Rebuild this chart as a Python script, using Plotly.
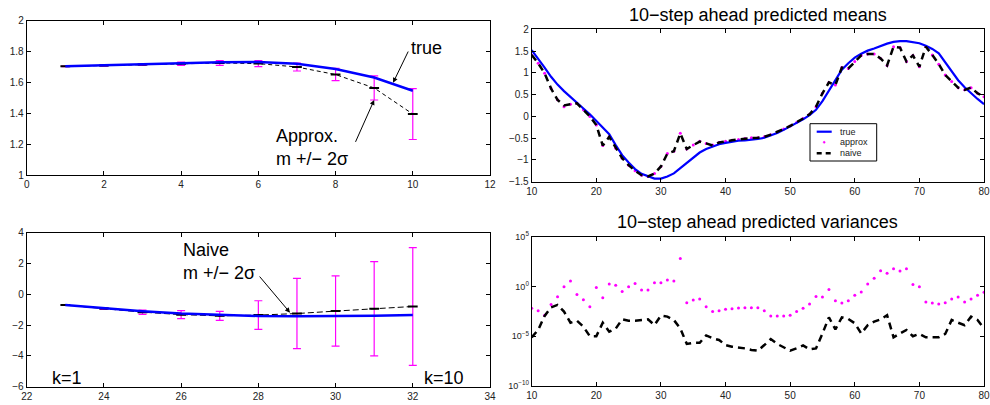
import plotly.graph_objects as go

# ---------------- data ----------------
# top-left: k-step ahead, approx method
tl_k = [1, 2, 3, 4, 5, 6, 7, 8, 9, 10]
tl_true = [1.704, 1.711, 1.717, 1.724, 1.730, 1.732, 1.721, 1.687, 1.632, 1.546]
tl_approx = [1.704, 1.710, 1.716, 1.721, 1.726, 1.722, 1.700, 1.651, 1.564, 1.395]
tl_err = [0.002, 0.004, 0.005, 0.011, 0.015, 0.019, 0.026, 0.040, 0.078, 0.165]

# bottom-left: naive method
bl_k = [23, 24, 25, 26, 27, 28, 29, 30, 31, 32]
bl_true = [-0.70, -0.92, -1.10, -1.25, -1.35, -1.41, -1.43, -1.42, -1.40, -1.35]
bl_naive = [-0.70, -0.93, -1.16, -1.32, -1.40, -1.35, -1.25, -1.09, -0.94, -0.79]
bl_err = [0.02, 0.05, 0.14, 0.26, 0.29, 0.93, 2.28, 2.28, 3.06, 3.82]

# right: 10-step ahead predictions, t = 10..80
t = list(range(10, 81))
true_mean = [1.52, 1.33, 1.12, 0.91, 0.73, 0.58, 0.44, 0.31, 0.18, 0.05,
             -0.10, -0.24, -0.41, -0.66, -0.89, -1.06, -1.21, -1.32, -1.38, -1.43,
             -1.43, -1.38, -1.31, -1.19, -1.06, -0.94, -0.83, -0.75, -0.69, -0.64,
             -0.61, -0.58, -0.56, -0.55, -0.54, -0.52, -0.49, -0.44, -0.38, -0.31,
             -0.23, -0.15, -0.07, 0.03, 0.15, 0.35, 0.60, 0.85, 1.07, 1.22,
             1.35, 1.44, 1.51, 1.56, 1.62, 1.67, 1.71, 1.73, 1.73, 1.71,
             1.68, 1.62, 1.55, 1.45, 1.24, 1.03, 0.83, 0.67, 0.53, 0.40,
             0.28]
naive_mean = [1.41, 1.22, 0.99, 0.64, 0.38, 0.25, 0.28, 0.30, 0.15, 0.00,
              -0.20, -0.67, -0.47, -0.73, -0.96, -1.12, -1.25, -1.35, -1.38, -1.31,
              -1.15, -0.85, -0.80, -0.39, -0.75, -0.66, -0.58, -0.62, -0.67, -0.60,
              -0.57, -0.55, -0.53, -0.51, -0.50, -0.49, -0.47, -0.42, -0.36, -0.29,
              -0.22, -0.14, -0.05, 0.05, 0.22, 0.53, 0.78, 0.72, 1.12, 1.10,
              1.26, 1.40, 1.43, 1.43, 1.33, 1.17, 1.60, 1.58, 1.26, 1.40,
              1.14, 1.60, 1.41, 1.20, 0.95, 0.80, 0.66, 0.61, 0.66, 0.53,
              0.45]
approx_mean = [1.41, 1.22, 0.99, 0.64, 0.38, 0.22, 0.28, 0.30, 0.15, 0.00,
               -0.20, -0.67, -0.47, -0.73, -0.96, -1.12, -1.25, -1.35, -1.38, -1.31,
               -1.15, -0.85, -0.80, -0.39, -0.75, -0.66, -0.57, -0.62, -0.66, -0.60,
               -0.57, -0.55, -0.53, -0.51, -0.49, -0.49, -0.47, -0.42, -0.36, -0.29,
               -0.22, -0.14, -0.05, 0.05, 0.22, 0.53, 0.78, 0.72, 1.12, 1.10,
               1.26, 1.40, 1.43, 1.43, 1.33, 1.17, 1.60, 1.58, 1.26, 1.40,
               1.14, 1.60, 1.41, 1.20, 0.95, 0.80, 0.66, 0.61, 0.66, 0.53,
               0.45]
approx_var = [6.3e-3, 3.7e-3, 1.3e-3, 1.5e-2, 9.3e-2, 0.95, 3.5, 0.16, 4.7e-2, 9.3e-3,
              0.81, 7.4e-2, 1.8, 1.3, 0.32, 0.95, 2.0, 0.44, 0.44, 2.4,
              2.4, 4.5, 3.5, 660, 2.3e-2, 4.4e-2, 5.5e-2, 9.3e-3, 3.0e-3, 3.7e-3,
              5.0e-3, 5.9e-3, 6.9e-3, 7.4e-3, 7.4e-3, 7.4e-3, 3.7e-3, 1.1e-3, 1.1e-3, 1.1e-3,
              1.3e-3, 3.0e-3, 6.3e-3, 1.7e-2, 0.10, 8.7e-2, 0.51, 3.7e-2, 2.2e-2, 3.7e-2,
              0.13, 0.28, 1.8, 6.6, 39, 21, 62, 35, 62, 1.6,
              0.95, 2.8e-2, 2.2e-2, 1.7e-2, 2.3e-2, 5.5e-2, 8.7e-2, 2.8e-2, 5.5e-2, 0.13,
              0.26]
naive_var = [7.8e-6, 4.3e-5, 1.1e-3, 7.9e-3, 1.4e-2, 3.0e-3, 2.3e-4, 3.6e-4, 9.1e-5, 1.0e-5,
             1.0e-5, 2.3e-4, 2.9e-5, 5.8e-5, 5.0e-4, 3.6e-4, 3.6e-4, 4.3e-4, 5.0e-4, 1.3e-4,
             1.2e-3, 9.3e-4, 4.3e-4, 6.2e-5, 1.7e-6, 2.2e-6, 2.2e-6, 1.2e-5, 6.2e-6, 4.2e-6,
             1.3e-6, 8.9e-7, 7.6e-7, 6.0e-7, 4.2e-7, 3.5e-7, 1.3e-6, 5.2e-6, 1.7e-6, 7.6e-7,
             3.5e-7, 6.0e-7, 1.2e-6, 4.8e-7, 6.0e-7, 1.9e-5, 7.9e-4, 4.9e-5, 7.9e-4, 5.4e-4,
             2.0e-4, 1.9e-5, 1.3e-4, 2.9e-4, 5.0e-4, 1.3e-3, 7.8e-6, 1.9e-5, 4.3e-5, 1.0e-5,
             1.7e-5, 7.8e-6, 7.8e-6, 7.8e-6, 1.7e-5, 4.3e-4, 2.3e-4, 1.3e-4, 9.3e-4, 4.3e-4,
             6.2e-5]

var_tickvals = [1e-10, 1e-5, 1, 1e5]
var_ticktext = ["10<sup>−10</sup>", "10<sup>−5</sup>", "10<sup>0</sup>", "10<sup>5</sup>"]
legend_names = ["true", "approx", "naive"]

# ---------------- figure ----------------
W, H = 990, 405
FONT = "Liberation Sans, Arial, sans-serif"
BLUE, MAG = "#0000ff", "#ff00ff"
fig = go.Figure()

def px_x(p):
    return p / W

def px_y(p):
    return 1 - p / H

# top-left
fig.add_trace(go.Scatter(x=tl_k, y=tl_approx, mode="markers", showlegend=False,
                         marker=dict(symbol="line-ew", size=7, color="black",
                                     line=dict(width=2, color="black")),
                         error_y=dict(type="data", array=tl_err, color=MAG,
                                      thickness=1.2, width=4),
                         xaxis="x", yaxis="y"))
fig.add_trace(go.Scatter(x=tl_k, y=tl_approx, mode="lines", showlegend=False,
                         line=dict(color="black", width=1, dash="4px,3px"),
                         xaxis="x", yaxis="y"))
fig.add_trace(go.Scatter(x=tl_k, y=tl_true, mode="lines", showlegend=False,
                         line=dict(color=BLUE, width=2.5),
                         xaxis="x", yaxis="y"))

# bottom-left
fig.add_trace(go.Scatter(x=bl_k, y=bl_naive, mode="markers", showlegend=False,
                         marker=dict(symbol="line-ew", size=7, color="black",
                                     line=dict(width=2, color="black")),
                         error_y=dict(type="data", array=bl_err, color=MAG,
                                      thickness=1.2, width=4),
                         xaxis="x3", yaxis="y3"))
fig.add_trace(go.Scatter(x=bl_k, y=bl_naive, mode="lines", showlegend=False,
                         line=dict(color="black", width=1, dash="6px,3px"),
                         xaxis="x3", yaxis="y3"))
fig.add_trace(go.Scatter(x=bl_k, y=bl_true, mode="lines", showlegend=False,
                         line=dict(color=BLUE, width=2.5),
                         xaxis="x3", yaxis="y3"))

# top-right: means
fig.add_trace(go.Scatter(x=t, y=approx_mean, mode="markers", name=legend_names[1],
                         showlegend=False, marker=dict(color=MAG, size=3),
                         xaxis="x2", yaxis="y2"))
fig.add_trace(go.Scatter(x=t, y=true_mean, mode="lines", name=legend_names[0],
                         showlegend=False, line=dict(color=BLUE, width=2.2),
                         xaxis="x2", yaxis="y2"))
fig.add_trace(go.Scatter(x=t, y=naive_mean, mode="lines", name=legend_names[2],
                         showlegend=False, line=dict(color="black", width=2.5, dash="7px,5px"),
                         xaxis="x2", yaxis="y2"))

# bottom-right: variances
fig.add_trace(go.Scatter(x=t, y=approx_var, mode="markers", showlegend=False,
                         marker=dict(color=MAG, size=3),
                         xaxis="x4", yaxis="y4"))
fig.add_trace(go.Scatter(x=t, y=naive_var, mode="lines", showlegend=False,
                         line=dict(color="black", width=2.5, dash="7px,5px"),
                         xaxis="x4", yaxis="y4"))

ax = dict(showline=True, linecolor="black", linewidth=1, mirror="ticks",
          ticks="inside", ticklen=4, tickcolor="black", showgrid=False,
          zeroline=False, automargin=False, ticklabeloverflow="allow",
          tickfont=dict(family=FONT, size=10, color="#222"))

L1, R1 = px_x(26.7), px_x(490)
L2, R2 = px_x(531.7), px_x(984)

fig.update_layout(
    width=W, height=H, margin=dict(l=0, r=0, t=0, b=0),
    paper_bgcolor="white", plot_bgcolor="white", showlegend=False,
    font=dict(family=FONT, color="black"),
    xaxis=dict(ax, domain=[L1, R1], range=[0, 12], tickvals=[0, 2, 4, 6, 8, 10, 12], anchor="y"),
    yaxis=dict(ax, domain=[px_y(175), px_y(20.7)], range=[1, 2],
               tickvals=[1, 1.2, 1.4, 1.6, 1.8, 2], anchor="x"),
    xaxis2=dict(ax, domain=[L2, R2], range=[10, 80], tickvals=list(range(10, 81, 10)), anchor="y2"),
    yaxis2=dict(ax, domain=[px_y(181.7), px_y(29.3)], range=[-1.5, 2],
                tickvals=[-1.5, -1, -0.5, 0, 0.5, 1, 1.5, 2], anchor="x2"),
    xaxis3=dict(ax, domain=[L1, R1], range=[22, 34], tickvals=list(range(22, 35, 2)), anchor="y3"),
    yaxis3=dict(ax, domain=[px_y(386.7), px_y(232.7)], range=[-6, 4],
                tickvals=[-6, -4, -2, 0, 2, 4], anchor="x3"),
    xaxis4=dict(ax, domain=[L2, R2], range=[10, 80], tickvals=list(range(10, 81, 10)), anchor="y4"),
    yaxis4=dict(ax, domain=[px_y(386), px_y(236.7)], type="log", range=[-10, 5],
                tickvals=var_tickvals, ticktext=var_ticktext, anchor="x4",
                tickfont=dict(family=FONT, size=9, color="#222")),
)

ann = []
def arrow(x, y, axv, ayv, xr, yr):
    return dict(x=x, y=y, ax=axv, ay=ayv, xref=xr, yref=yr, axref=xr, ayref=yr,
                text="", showarrow=True, arrowhead=2, arrowsize=1, arrowwidth=1,
                arrowcolor="black", standoff=0, startstandoff=0)

def label(x, y, text, xr, yr, size=18):
    return dict(x=x, y=y, xref=xr, yref=yr, text=text, showarrow=False,
                xanchor="left", yanchor="middle", align="left",
                font=dict(family=FONT, size=size, color="black"))

ann.append(label(9.9, 1.82, "true", "x", "y"))
ann.append(arrow(9.49, 1.598, 9.9, 1.81, "x", "y"))
ann.append(label(6.4, 1.18, "Approx.<br>m +/− 2σ", "x", "y"))
ann.append(arrow(9.0, 1.486, 8.5, 1.205, "x", "y"))
ann.append(label(26.0, 2.13, "Naive<br>m +/− 2σ", "x3", "y3"))
ann.append(arrow(28.82, -1.19, 28.0, 1.25, "x3", "y3"))
ann.append(label(22.6, -5.43, "k=1", "x3", "y3"))
ann.append(label(32.25, -5.43, "k=10", "x3", "y3"))
ann.append(dict(x=(L2 + R2) / 2, y=px_y(15), xref="paper", yref="paper",
                text="10−step ahead predicted means", showarrow=False,
                xanchor="center", yanchor="middle",
                font=dict(family=FONT, size=18, color="black")))
ann.append(dict(x=(L2 + R2) / 2, y=px_y(221.7), xref="paper", yref="paper",
                text="10−step ahead predicted variances", showarrow=False,
                xanchor="center", yanchor="middle",
                font=dict(family=FONT, size=18, color="black")))

# legend for the means panel (compact, drawn in paper space)
shapes = []
shapes.append(dict(type="rect", xref="paper", yref="paper",
                   x0=px_x(810), x1=px_x(876.7), y0=px_y(161), y1=px_y(123.7),
                   line=dict(color="black", width=1), fillcolor="white", layer="above"))
leg_y = [131.7, 142.3, 153.3]
shapes.append(dict(type="line", xref="paper", yref="paper",
                   x0=px_x(816.7), x1=px_x(831.7), y0=px_y(leg_y[0]), y1=px_y(leg_y[0]),
                   line=dict(color=BLUE, width=2.2), layer="above"))
shapes.append(dict(type="circle", xref="paper", yref="paper",
                   x0=px_x(823.2), x1=px_x(825.2), y0=px_y(leg_y[1] + 1), y1=px_y(leg_y[1] - 1),
                   line=dict(color=MAG, width=0.5), fillcolor=MAG, layer="above"))
shapes.append(dict(type="line", xref="paper", yref="paper",
                   x0=px_x(816.7), x1=px_x(831.7), y0=px_y(leg_y[2]), y1=px_y(leg_y[2]),
                   line=dict(color="black", width=2.5, dash="5px,4px"), layer="above"))
for name, yy in zip(legend_names, leg_y):
    ann.append(dict(x=px_x(837.5), y=px_y(yy), xref="paper", yref="paper", text=name,
                    showarrow=False, xanchor="left", yanchor="middle",
                    font=dict(family=FONT, size=9, color="#222")))

fig.update_layout(annotations=ann, shapes=shapes)

# remove the default page margin so the 990x405 figure fills the window exactly
fig.write_html("out.html",
               config={"displayModeBar": False, "staticPlot": True},
               post_script="document.body.style.margin='0';document.body.style.overflow='hidden';")
